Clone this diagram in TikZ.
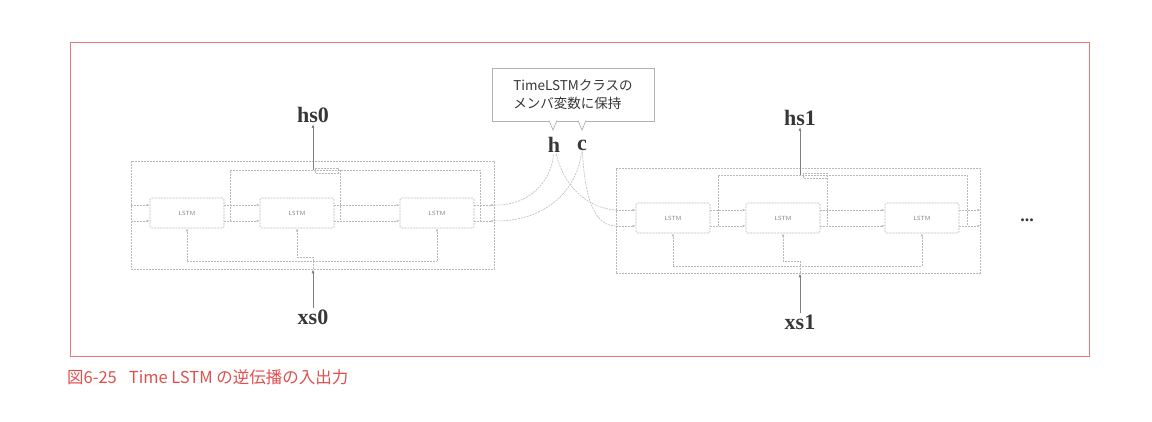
\documentclass[tikz,border=0pt]{standalone}
\usepackage{fontspec}
\setmainfont{Liberation Serif}
\newfontfamily\jpfont{Noto Sans CJK JP}
\usetikzlibrary{arrows.meta}
\usepackage{xcolor}
\definecolor{framered}{RGB}{228,120,120}
\definecolor{capred}{RGB}{224,78,78}
\definecolor{wiregray}{RGB}{185,185,185}
\definecolor{ink}{RGB}{55,55,55}

\tikzset{
    wire/.style={draw=wiregray, line width=0.6pt, dash pattern=on 2pt off 1pt},
    wirearrow/.style={wire, -{Latex[length=3pt,width=2.4pt]}},
    ioarrow/.style={draw=gray, line width=0.8pt, -{Latex[length=4pt,width=3pt]}},
    lstmbox/.style={wire, rounded corners=1.5pt, minimum width=74pt, minimum height=30pt, inner sep=0pt, font=\sffamily\fontsize{6}{6}\selectfont, text=gray},
    blockbox/.style={wire, inner sep=0pt},
    varlabel/.style={font=\bfseries\fontsize{22}{22}\selectfont, text=ink, inner sep=1pt},
    notebox/.style={draw=gray!60, line width=0.7pt, fill=white, inner sep=0pt, minimum width=162pt, minimum height=53pt, align=left, text=ink, font=\jpfont\fontsize{13.5}{18}\selectfont},
}

\begin{document}
\begin{tikzpicture}[x=1pt,y=-1pt]
    \useasboundingbox (0,0) rectangle (1152,421);
    % frame and caption
    \draw[framered, line width=0.8pt] (70,42) rectangle (1089,356);
    \node[anchor=west, text=capred, font=\jpfont\fontsize{16.5}{16.5}\selectfont, inner sep=0pt] (caption) at (67,377) {図6-25\hspace{12pt}Time LSTM の逆伝播の入出力};

    % first Time LSTM
    \node[blockbox, minimum width=363pt, minimum height=108pt] (tl0) at (312.5,215) {};
    \node[lstmbox] (lstm1) at (187,213) {LSTM};
    \node[lstmbox] (lstm2) at (297,213) {LSTM};
    \node[lstmbox] (lstm3) at (437,213) {LSTM};
    \draw[wirearrow] (tl0.west |- lstm1.168) -- (lstm1.168);
    \draw[wirearrow] (tl0.west |- lstm1.192) -- (lstm1.192);
    \draw[wirearrow] (lstm1.12) -- (lstm2.168);
    \draw[wirearrow] (lstm1.-12) -- (lstm2.192);
    \draw[wirearrow] (lstm2.12) -- (lstm3.168);
    \draw[wirearrow] (lstm2.-12) -- (lstm3.192);
    \coordinate (out0h) at (tl0.east |- lstm3.12);
    \coordinate (out0c) at (tl0.east |- lstm3.-12);
    \draw[wirearrow] (lstm3.12) -- (out0h);
    \draw[wirearrow] (lstm3.-12) -- (out0c);

    % hs0 out of the top
    \coordinate (bus0a) at (230,170);
    \coordinate (bus0m) at (340,170);
    \coordinate (bus0b) at (480,170);
    \coordinate (hj0) at (313,170);
    \draw[wire] (bus0a |- lstm1.-12) -- (bus0a) -- (bus0b) -- (bus0b |- lstm3.-12);
    \draw[wire] (bus0m) -- (bus0m |- lstm2.-12);
    \draw[wire] ([shift={(2,-2)}]hj0) rectangle ([shift={(25,3)}]hj0);
    \node[varlabel] (hs0) at (313,115) {hs0};
    \draw[ioarrow] (hj0) -- (hs0);

    % xs0 into the bottom
    \coordinate (bot0) at (313,261);
    \coordinate (bj0) at (313,257);
    \draw[wire] (lstm1.south |- bot0) -- (lstm3.south |- bot0);
    \draw[wirearrow] (lstm1.south |- bot0) -- (lstm1.south);
    \draw[wirearrow] (lstm3.south |- bot0) -- (lstm3.south);
    \draw[wirearrow] (bot0) -- (bj0) -| (lstm2.south);
    \draw[wire] (tl0.south -| bot0) -- (bot0);
    \node[varlabel] (xs0) at (313,317) {xs0};
    \draw[ioarrow] (xs0) -- (tl0.south -| bot0);

    % second Time LSTM
    \node[blockbox, minimum width=364pt, minimum height=105pt] (tl1) at (798,220.5) {};
    \node[lstmbox] (lstm4) at (673,218) {LSTM};
    \node[lstmbox] (lstm5) at (783,218) {LSTM};
    \node[lstmbox] (lstm6) at (922,218) {LSTM};
    \coordinate (in1h) at (tl1.west |- lstm4.168);
    \coordinate (in1c) at (tl1.west |- lstm4.192);
    \draw[wirearrow] (in1h) -- (lstm4.168);
    \draw[wirearrow] (in1c) -- (lstm4.192);
    \draw[wirearrow] (lstm4.12) -- (lstm5.168);
    \draw[wirearrow] (lstm4.-12) -- (lstm5.192);
    \draw[wirearrow] (lstm5.12) -- (lstm6.168);
    \draw[wirearrow] (lstm5.-12) -- (lstm6.192);
    \draw[wirearrow] (lstm6.12) -- (tl1.east |- lstm6.12);
    \draw[wirearrow] (lstm6.-12) -- (tl1.east |- lstm6.-12);

    % hs1 out of the top
    \coordinate (bus1a) at (718,175);
    \coordinate (bus1m) at (827,175);
    \coordinate (bus1b) at (967,175);
    \coordinate (hj1) at (800,175);
    \draw[wire] (bus1a |- lstm4.-12) -- (bus1a) -- (bus1b) -- (bus1b |- lstm6.-12);
    \draw[wire] (bus1m) -- (bus1m |- lstm5.-12);
    \draw[wire] ([shift={(3,-2)}]hj1) rectangle ([shift={(27,3)}]hj1);
    \node[varlabel] (hs1) at (800,118) {hs1};
    \draw[ioarrow] (hj1) -- (hs1);

    % xs1 into the bottom
    \coordinate (bot1) at (800,266);
    \coordinate (bj1) at (800,261);
    \draw[wire] (lstm4.south |- bot1) -- (lstm6.south |- bot1);
    \draw[wirearrow] (lstm4.south |- bot1) -- (lstm4.south);
    \draw[wirearrow] (lstm6.south |- bot1) -- (lstm6.south);
    \draw[wirearrow] (bot1) -- (bj1) -| (lstm5.south);
    \draw[wire] (tl1.south -| bot1) -- (bot1);
    \node[varlabel] (xs1) at (800,322) {xs1};
    \draw[ioarrow] (xs1) -- (tl1.south -| bot1);

    \node[font=\bfseries\fontsize{18}{18}\selectfont, text=ink] (more) at (1027,220) {...};

    % h and c kept between the two
    \node[varlabel] (h) at (554,145) {h};
    \node[varlabel] (c) at (582,145) {c};
    \draw[wire] (out0h) .. controls (530,206) and (552,180) .. (h);
    \draw[wire] (out0c) .. controls (545,222) and (578,190) .. (c);
    \draw[wire] (h) .. controls (565,190) and (590,208) .. (in1h);
    \draw[wire] (c) .. controls (585,200) and (595,226) .. (in1c);

    \node[notebox] (note) at (573,95) {TimeLSTMクラスの\\メンバ変数に保持};
    \draw[draw=gray!60, line width=0.7pt, fill=white] (549,120.5) -- (553,130) -- (557,120.5);
    \draw[draw=gray!60, line width=0.7pt, fill=white] (578,120.5) -- (582,130) -- (586,120.5);
\end{tikzpicture}
\end{document}
